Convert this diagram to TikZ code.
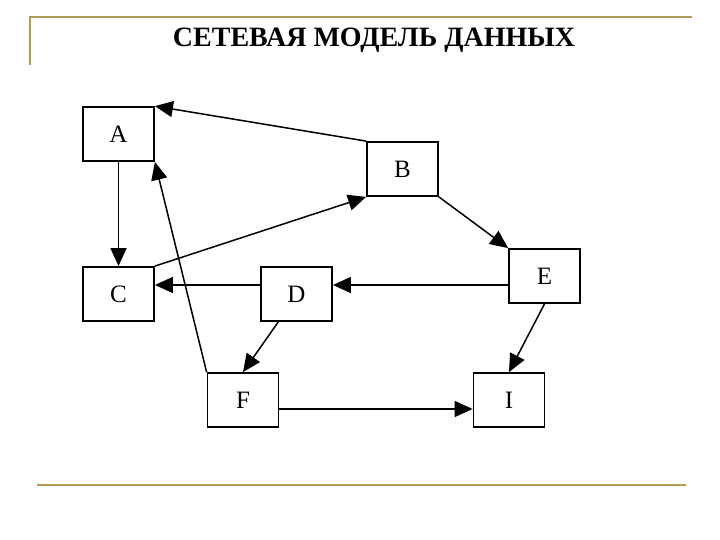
\documentclass[tikz,border=0pt]{standalone}
\usepackage{fontspec}
\setmainfont{Liberation Serif}
\usetikzlibrary{arrows.meta,calc}
\definecolor{gold}{RGB}{180,155,85}
\begin{document}
\begin{tikzpicture}[x=1pt,y=-1pt,
  box/.style={draw,line width=1.8pt,minimum width=71pt,minimum height=54pt,inner sep=0pt,font=\fontsize{25}{25}\selectfont},
  arr/.style={line width=1.5pt,-{Triangle[length=18pt,width=16pt]}},
  rule/.style={draw=gold,line width=2.2pt}]
\useasboundingbox[fill=white] (0,0) rectangle (720,540);
\draw[rule] (30,65) -- (30,17) -- (692,17);
\draw[rule] (37,485) -- (686,485);
\node[font=\fontsize{28}{28}\selectfont\bfseries] (title) at (374,40) {СЕТЕВАЯ МОДЕЛЬ ДАННЫХ};
\node[box] (A) at (118.5,134) {A};
\node[box] (B) at (402.5,169) {B};
\node[box] (C) at (118.5,294) {C};
\node[box] (D) at (296.5,294) {D};
\node[box] (E) at (544.5,276) {E};
\node[box] (F) at (243,400) {F};
\node[box] (I) at (509,400) {I};
\draw[arr] (B.north west) -- (A.north east);
\draw[arr] (A.south) -- (C.north);
\draw[arr] (C.north east) -- (B.south west);
\draw[arr] (F.north west) -- (A.south east);
\draw[arr] ([yshift=9pt]D.west) -- ([yshift=9pt]C.east);
\draw[arr] ([yshift=-9pt]E.west) -- ([yshift=9pt]D.east);
\draw[arr] (B.south east) -- (E.north west);
\draw[arr] ($(D.south)!0.5!(D.south west)$) -- (F.north);
\draw[arr] (E.south) -- (I.north);
\draw[arr] ([yshift=-9pt]F.east) -- ([yshift=-9pt]I.west);
\end{tikzpicture}
\end{document}
